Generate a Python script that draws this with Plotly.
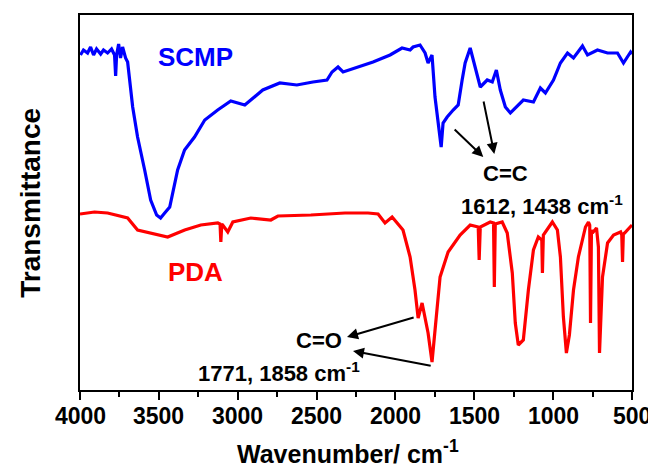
import plotly.graph_objects as go

# SCMP spectrum (wavenumber, transmittance a.u.)
scmp_wn = [3997, 3978, 3952, 3933, 3914, 3895, 3869, 3851, 3825, 3800, 3781, 3774, 3768, 3755,
           3743, 3730, 3711, 3698, 3666, 3635, 3590, 3552, 3514, 3489, 3463, 3431, 3381, 3337,
           3274, 3209, 3127, 3044, 2955, 2841, 2733, 2625, 2523, 2434, 2402, 2364, 2332, 2243,
           2142, 2034, 1958, 1907, 1888, 1844, 1812, 1793, 1768, 1749, 1730, 1710, 1698, 1672,
           1634, 1602, 1577, 1558, 1526, 1494, 1462, 1418, 1386, 1360, 1335, 1303, 1271, 1189,
           1125, 1081, 1049, 998, 954, 909, 871, 814, 782, 719, 655, 592, 554, 509, 500]
scmp_t = [335, 340, 337, 343, 335, 341, 336, 340, 337, 341, 335, 314, 335, 346,
          332, 343, 332, 328, 283, 253, 220, 190, 175, 172, 177, 183, 220, 240,
          253, 270, 280, 289, 285, 300, 307, 305, 308, 310, 318, 323, 318, 323,
          328, 335, 342, 340, 343, 345, 337, 327, 335, 293, 267, 243, 267, 273,
          280, 285, 310, 327, 342, 323, 303, 310, 308, 320, 300, 283, 277, 290,
          288, 302, 297, 310, 327, 337, 332, 344, 335, 340, 337, 337, 327, 338, 336]

# PDA spectrum
pda_wn = [4000, 3908, 3825, 3698, 3635, 3552, 3444, 3336, 3234, 3126, 3112, 3107, 3101, 3095,
          3063, 3031, 2917, 2790, 2745, 2536, 2320, 2174, 2110, 2066, 2021, 1952, 1907, 1876,
          1856, 1831, 1812, 1793, 1768, 1749, 1717, 1666, 1590, 1526, 1475, 1469, 1462, 1399,
          1378, 1373, 1367, 1323, 1291, 1259, 1240, 1221, 1189, 1157, 1125, 1094, 1072, 1068,
          1062, 1005, 973, 954, 935, 916, 897, 871, 840, 795, 776, 768, 763, 757, 751, 725,
          713, 706, 687, 655, 617, 572, 565, 560, 555, 547, 500]
pda_t = [176, 178, 177, 172, 160, 157, 153, 160, 165, 167, 166, 148, 166, 165,
         158, 168, 172, 170, 174, 175, 177, 177, 176, 167, 173, 160, 133, 100,
         72, 87, 73, 57, 28, 60, 113, 138, 155, 165, 163, 130, 163, 168,
         167, 103, 166, 168, 157, 117, 67, 45, 50, 100, 140, 153, 150, 117,
         155, 168, 160, 133, 73, 37, 55, 100, 133, 163, 168, 165, 67, 160, 157, 162,
         143, 37, 113, 147, 155, 158, 155, 128, 156, 157, 165]

x_ticks = [4000, 3500, 3000, 2500, 2000, 1500, 1000, 500]

FONT = "Liberation Sans, Arial, sans-serif"

fig = go.Figure()
fig.add_trace(go.Scatter(x=scmp_wn, y=scmp_t, mode="lines", name="SCMP",
                         line=dict(color="#0000FF", width=3.2)))
fig.add_trace(go.Scatter(x=pda_wn, y=pda_t, mode="lines", name="PDA",
                         line=dict(color="#FF0000", width=3.2)))

def txt(x, y, s, color="black", size=22):
    fig.add_annotation(x=x, y=y, xref="x", yref="y", text="<b>" + s + "</b>", showarrow=False,
                       xanchor="center", yanchor="middle",
                       font=dict(family=FONT, size=size, color=color))

txt(3266, 333, "SCMP", "#0000FF", 26)
txt(3266, 118, "PDA", "#FF0000", 26)
txt(1304, 217, "C=C")
txt(1069, 185, "1612, 1438 cm<sup>-1</sup>")
txt(2485, 50, "C=O")
txt(2739, 18, "1771, 1858 cm<sup>-1</sup>")

def arrow(x0, y0, x1, y1):
    fig.add_annotation(x=x1, y=y1, ax=x0, ay=y0, xref="x", yref="y", axref="x", ayref="y",
                       text="", showarrow=True, arrowhead=2, arrowsize=1.1,
                       arrowwidth=2, arrowcolor="black")

arrow(1634, 262, 1443, 233)
arrow(1443, 290, 1373, 236)
arrow(1875, 73, 2307, 53)
arrow(1767, 24, 2269, 39)

# tick labels as annotations centred on the tick values
for v in x_ticks:
    fig.add_annotation(x=v, xref="x", yref="paper", y=-0.068, xanchor="center",
                       yanchor="middle", text="<b>%d</b>" % v, showarrow=False,
                       font=dict(family=FONT, size=23, color="black"))

fig.add_annotation(xref="paper", yref="paper", x=0.485, y=-0.165, xanchor="center",
                   yanchor="middle",
                   text="<b>Wavenumber/ cm<sup>-1</sup></b>", showarrow=False,
                   font=dict(family=FONT, size=25, color="black"))
fig.add_annotation(xref="paper", yref="paper", x=-0.09, y=0.5, xanchor="center",
                   yanchor="middle",
                   text="<b>Transmittance</b>", textangle=-90, showarrow=False,
                   font=dict(family=FONT, size=28, color="black"))

fig.update_layout(
    template="none",
    width=648, height=458, autosize=False,
    margin=dict(l=72, r=24, t=7, b=76),
    plot_bgcolor="white", paper_bgcolor="white",
    showlegend=False,
    xaxis=dict(range=[4000, 500], tickvals=x_ticks, showticklabels=False,
               ticks="outside", ticklen=8, automargin=False,
               tickwidth=2, tickcolor="black", showline=True, linewidth=2,
               linecolor="black", mirror=True, showgrid=False, zeroline=False,
               minor=dict(dtick=250, tick0=500, ticks="outside", ticklen=5, tickwidth=2,
                          tickcolor="black", showgrid=False)),
    yaxis=dict(range=[0, 375], showticklabels=False, ticks="", showline=True,
               automargin=False,
               linewidth=2, linecolor="black", mirror=True, showgrid=False,
               zeroline=False),
)

fig.write_html("out.html")
